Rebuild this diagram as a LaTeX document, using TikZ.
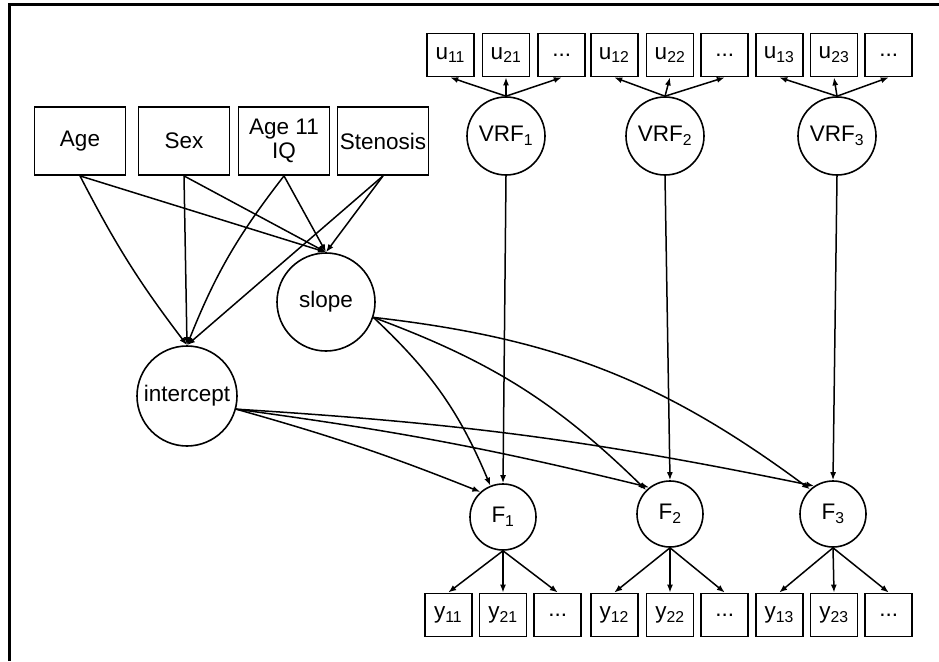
\documentclass[tikz,border=0pt]{standalone}
\usepackage{fontspec}
\setmainfont{Liberation Sans}
\usepackage{pgf,tikz}
\usetikzlibrary{arrows.meta,positioning}
\tikzstyle{covariable} = [draw, rectangle, line width=1.8pt, minimum width=91pt, minimum height=68pt, inner sep=0pt, align=center, font=\fontsize{22.5}{24}\selectfont]
\tikzstyle{indicador} = [draw, rectangle, line width=1.8pt, minimum width=47pt, minimum height=43pt, inner sep=0pt, font=\fontsize{22.5}{24}\selectfont]
\tikzstyle{latente} = [draw, circle, line width=1.6pt, inner sep=0pt, font=\fontsize{22.5}{24}\selectfont]
\tikzstyle{flecha} = [-{Latex[length=8pt,width=6pt]}, line width=1.5pt]

\begin{document}
\begin{tikzpicture}[x=1pt, y=-1pt]
	\useasboundingbox (0,0) rectangle (939,661);
	\draw[line width=3pt] (9,661) -- (9,5) -- (939,5);
	% covariables
	\node[covariable](age) at (80,141) {Age};
	\node[covariable](sex) at (184,141) {Sex};
	\node[covariable](iq) at (284,141) {Age 11\\IQ};
	\node[covariable](stenosis) at (383,141) {Stenosis};
	\node[latente, minimum size=98pt](slope) at (326,302) {slope};
	\node[latente, minimum size=100pt](intercept) at (187,396) {intercept};
	% factores de riesgo vascular
	\node[latente, minimum size=78pt](vrf1) at (506,136) {VRF\textsubscript{1}};
	\node[latente, minimum size=78pt](vrf2) at (665,136) {VRF\textsubscript{2}};
	\node[latente, minimum size=78pt](vrf3) at (837,136) {VRF\textsubscript{3}};
	\node[indicador](u21) at (506,55) {u\textsubscript{21}};
	\node[indicador, left=7pt of u21](u11) {u\textsubscript{11}};
	\node[indicador, right=7pt of u21](ud1) {...};
	\node[indicador](u22) at (670,55) {u\textsubscript{22}};
	\node[indicador, left=7pt of u22](u12) {u\textsubscript{12}};
	\node[indicador, right=6pt of u22](ud2) {...};
	\node[indicador](u23) at (834,55) {u\textsubscript{23}};
	\node[indicador, left=6pt of u23](u13) {u\textsubscript{13}};
	\node[indicador, right=6pt of u23](ud3) {...};
	% factores
	\node[latente, minimum size=66pt](f1) at (503,517) {F\textsubscript{1}};
	\node[latente, minimum size=66pt](f2) at (670,514) {F\textsubscript{2}};
	\node[latente, minimum size=66pt](f3) at (833,514) {F\textsubscript{3}};
	\node[indicador](y21) at (503,615) {y\textsubscript{21}};
	\node[indicador, left=6pt of y21](y11) {y\textsubscript{11}};
	\node[indicador, right=6pt of y21](yd1) {...};
	\node[indicador](y22) at (670,615) {y\textsubscript{22}};
	\node[indicador, left=7pt of y22](y12) {y\textsubscript{12}};
	\node[indicador, right=6pt of y22](yd2) {...};
	\node[indicador](y23) at (834,615) {y\textsubscript{23}};
	\node[indicador, left=6pt of y23](y13) {y\textsubscript{13}};
	\node[indicador, right=6pt of y23](yd3) {...};
	% flechas
	\draw[flecha] (age.south) to[bend right=5] (intercept.north);
	\draw[flecha] (age.south) -- (slope.north);
	\draw[flecha] (sex.south) -- (intercept.north);
	\draw[flecha] (sex.south) -- (slope.north);
	\draw[flecha] (iq.south) to[bend right=8] (intercept.north);
	\draw[flecha] (iq.south) -- (slope.north);
	\draw[flecha] (stenosis.south) -- (intercept.north);
	\draw[flecha] (stenosis.south) -- (slope.north);
	\draw[flecha] (slope.-18) to[bend left=12] (f1.112);
	\draw[flecha] (slope.-18) to[bend left=12] (f2.135);
	\draw[flecha] (slope.-18) to[bend left=15] (f3.133);
	\draw[flecha] (intercept.-15) to[bend left=3] (f1.132);
	\draw[flecha] (intercept.-15) to[bend left=3] (f2.128);
	\draw[flecha] (intercept.-15) to[bend left=4] (f3.124);
	\draw[flecha] (vrf1.south) -- (f1.north);
	\draw[flecha] (vrf2.south) -- (f2.north);
	\draw[flecha] (vrf3.south) -- (f3.north);
	\draw[flecha] (vrf1.north) -- (u11.south);
	\draw[flecha] (vrf1.north) -- (u21.south);
	\draw[flecha] (vrf1.north) -- (ud1.south);
	\draw[flecha] (vrf2.north) -- (u12.south);
	\draw[flecha] (vrf2.north) -- (u22.south);
	\draw[flecha] (vrf2.north) -- (ud2.south);
	\draw[flecha] (vrf3.north) -- (u13.south);
	\draw[flecha] (vrf3.north) -- (u23.south);
	\draw[flecha] (vrf3.north) -- (ud3.south);
	\draw[flecha] (f1.south) -- (y11.north);
	\draw[flecha] (f1.south) -- (y21.north);
	\draw[flecha] (f1.south) -- (yd1.north);
	\draw[flecha] (f2.south) -- (y12.north);
	\draw[flecha] (f2.south) -- (y22.north);
	\draw[flecha] (f2.south) -- (yd2.north);
	\draw[flecha] (f3.south) -- (y13.north);
	\draw[flecha] (f3.south) -- (y23.north);
	\draw[flecha] (f3.south) -- (yd3.north);
\end{tikzpicture}
\end{document}
